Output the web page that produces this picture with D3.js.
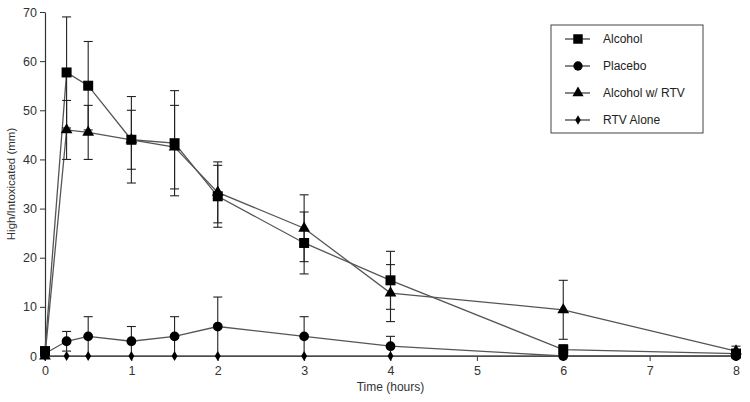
<!DOCTYPE html>
<html>
<head>
<meta charset="utf-8">
<script src="https://cdn.jsdelivr.net/npm/d3@7"></script>
<style>
  body { margin: 0; background: #fff; }
  text { font-family: "Liberation Sans", Arial, sans-serif; }
</style>
</head>
<body>
<div id="chart"></div>
<script>
// time points (hours)
const times = [0, 0.25, 0.5, 1, 1.5, 2, 3, 4, 6, 8];

// mean values per group
const alcohol = [1, 57.7, 55, 44, 43.3, 32.5, 23, 15.4, 1.3, 0.5];
const placebo = [0.5, 3, 4, 3, 4, 6, 4, 2, 0, 0];
const alcoholRtv = [0, 46, 45.5, 44, 42.5, 33.3, 26, 12.8, 9.4, 1];
const rtvAlone = [0, 0, 0, 0, 0, 0, 0, 0, 0, 0];

// error bar sizes
const alcoholErr = [0.8, 11.3, 9, 8.8, 10.7, 6.3, 6.3, 5.9, 1, 0.5];
const placeboErr = [0.5, 2, 4, 3, 4, 6, 4, 2, 0, 0];
const alcoholRtvErr = [0, 6, 5.5, 6, 8.5, 6.2, 6.8, 5.8, 6, 1];
const rtvAloneErr = [0, 0, 0, 0, 0, 0, 0, 0, 0, 0];

const seriesNames = ['Alcohol', 'Placebo', 'Alcohol w/ RTV', 'RTV Alone'];
const yTicks = [0, 10, 20, 30, 40, 50, 60, 70];
const xTicks = [0, 1, 2, 3, 4, 5, 6, 7, 8];

const series = [
  { name: seriesNames[0], values: alcohol, err: alcoholErr, shape: d3.symbolSquare, size: 100 },
  { name: seriesNames[1], values: placebo, err: placeboErr, shape: d3.symbolCircle, size: 75 },
  { name: seriesNames[2], values: alcoholRtv, err: alcoholRtvErr, shape: d3.symbolTriangle, size: 60 },
  { name: seriesNames[3], values: rtvAlone, err: rtvAloneErr, shape: d3.symbolDiamond, size: 30 }
];

const width = 750, height = 402;
const margin = { top: 12, right: 14, bottom: 46, left: 45 };

const svg = d3.select('#chart').append('svg')
  .attr('width', width)
  .attr('height', height);

const x = d3.scaleLinear().domain([0, 8]).range([margin.left, width - margin.right]);
const y = d3.scaleLinear().domain([0, 70]).range([height - margin.bottom, margin.top]);

const axisColor = '#333';

// axes
const xAxis = svg.append('g')
  .attr('transform', `translate(0,${y(0)})`)
  .call(d3.axisBottom(x).tickValues(xTicks).tickSize(5).tickSizeOuter(0));
const yAxis = svg.append('g')
  .attr('transform', `translate(${x(0)},0)`)
  .call(d3.axisLeft(y).tickValues(yTicks).tickSize(5).tickSizeOuter(0));

[xAxis, yAxis].forEach(a => {
  a.select('.domain').attr('stroke', axisColor).attr('stroke-width', 1.2);
  a.selectAll('.tick line').attr('stroke', axisColor);
  a.selectAll('.tick text').attr('fill', '#333').style('font-size', '12.5px');
});
xAxis.selectAll('.tick text').attr('dy', '0.9em');

// axis titles
svg.append('text')
  .attr('x', x(4))
  .attr('y', height - 11)
  .attr('text-anchor', 'middle')
  .style('font-size', '12px')
  .attr('fill', '#333')
  .text('Time (hours)');

svg.append('text')
  .attr('transform', `translate(15,${y(35)}) rotate(-90)`)
  .attr('text-anchor', 'middle')
  .style('font-size', '11.5px')
  .attr('fill', '#333')
  .text('High/Intoxicated (mm)');

const line = d3.line()
  .x((d, i) => x(times[i]))
  .y(d => y(d));

// connecting lines
svg.append('g').selectAll('path')
  .data(series)
  .join('path')
  .attr('d', s => line(s.values))
  .attr('fill', 'none')
  .attr('stroke', '#555')
  .attr('stroke-width', 1.3);

// error bars
const capHalf = 4.5;
series.forEach(s => {
  const g = svg.append('g').attr('stroke', '#222').attr('stroke-width', 1.1);
  s.values.forEach((v, i) => {
    const e = s.err[i];
    if (!e) return;
    const cx = x(times[i]);
    const y1 = y(v + e), y2 = y(Math.max(0, v - e));
    g.append('line').attr('x1', cx).attr('x2', cx).attr('y1', y1).attr('y2', y2);
    g.append('line').attr('x1', cx - capHalf).attr('x2', cx + capHalf).attr('y1', y1).attr('y2', y1);
    if (v - e > 0) {
      g.append('line').attr('x1', cx - capHalf).attr('x2', cx + capHalf).attr('y1', y2).attr('y2', y2);
    }
  });
});

// markers
series.forEach(s => {
  const sym = d3.symbol().type(s.shape).size(s.size);
  svg.append('g').selectAll('path')
    .data(s.values)
    .join('path')
    .attr('d', sym)
    .attr('transform', (d, i) => `translate(${x(times[i])},${y(d)})`)
    .attr('fill', '#000');
});

// legend
const legend = svg.append('g').attr('transform', 'translate(551,25)');
legend.append('rect')
  .attr('width', 152)
  .attr('height', 108)
  .attr('fill', '#fff')
  .attr('stroke', '#444')
  .attr('stroke-width', 1);

const items = legend.selectAll('.item')
  .data(series)
  .join('g')
  .attr('class', 'item')
  .attr('transform', (d, i) => `translate(0,${14 + i * 27})`);

items.append('line')
  .attr('x1', 14).attr('x2', 39)
  .attr('stroke', '#333').attr('stroke-width', 1.2);
items.append('path')
  .attr('d', s => d3.symbol().type(s.shape).size(s.size * 0.9)())
  .attr('transform', 'translate(27,0)')
  .attr('fill', '#000');
items.append('text')
  .attr('x', 52)
  .attr('dy', '0.35em')
  .style('font-size', '12px')
  .attr('fill', '#222')
  .text(s => s.name);
</script>
</body>
</html>
